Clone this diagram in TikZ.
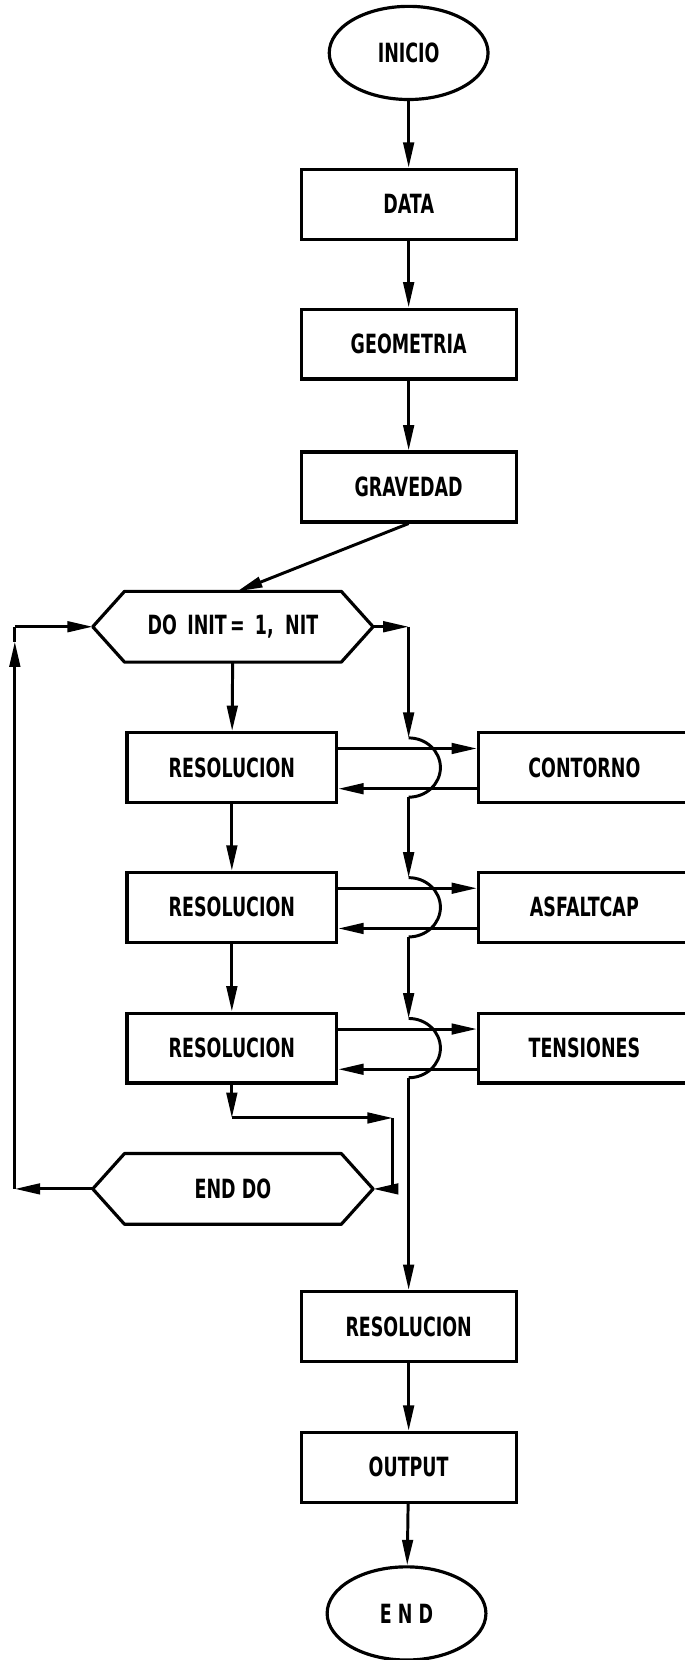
\documentclass[tikz,border=0pt]{standalone}
\usepackage{fontspec}
\setmainfont{DejaVu Sans}[FakeStretch=0.66]
\usetikzlibrary{arrows.meta,shapes.geometric}
\tikzset{
  conn/.style={line width=1.4pt},
  flow/.style={conn, -{Triangle[length=12pt,width=5pt]}},
  proc/.style={draw, line width=1.5pt, minimum width=101.5pt, minimum height=33pt,
    inner sep=0pt, font=\fontsize{12.5}{14}\selectfont\bfseries},
  subproc/.style={proc, minimum width=99pt},
  term/.style={draw, ellipse, line width=1.5pt, minimum width=75pt, minimum height=44pt,
    inner sep=0pt, font=\fontsize{12.5}{14}\selectfont\bfseries},
  dobox/.style={minimum width=132pt, minimum height=33pt, inner sep=0pt,
    font=\fontsize{12.5}{14}\selectfont\bfseries},
  hexline/.style={line width=1.5pt, line join=round},
}

\begin{document}
\begin{tikzpicture}[x=0.5pt,y=-0.5pt]
        \useasboundingbox (0,0) rectangle (647,1568);

        % main column
        \node[term] (ini) at (386,50) {INICIO};
        \node[proc] (data) at (386,193) {DATA};
        \node[proc] (geom) at (386,325) {GEOMETRIA};
        \node[proc] (grav) at (386,460) {GRAVEDAD};

        % loop
        \node[dobox] (do) at (220,592) {DO\hspace{2pt} INIT\hspace{1.5pt}= \hspace{2pt}1,\hspace{2.5pt} NIT};
        \node[subproc] (res1) at (219,725) {RESOLUCION};
        \node[subproc] (res2) at (219,857) {RESOLUCION};
        \node[subproc] (res3) at (219,990) {RESOLUCION};
        \node[dobox] (enddo) at (220,1123) {END DO};

        % hexagon outlines of the two loop nodes
        \foreach \h in {do,enddo}{
          \draw[hexline] (\h.west) -- ([xshift=15pt]\h.north west) -- ([xshift=-15pt]\h.north east)
            -- (\h.east) -- ([xshift=-15pt]\h.south east) -- ([xshift=15pt]\h.south west) -- cycle;
        }

        % side routines
        \node[subproc, minimum width=100pt] (cont) at (552,725) {CONTORNO};
        \node[subproc, minimum width=100pt] (asf) at (552,857) {ASFALTCAP};
        \node[subproc, minimum width=100pt] (tens) at (552,990) {TENSIONES};

        % end
        \node[proc] (resf) at (386,1253) {RESOLUCION};
        \node[proc] (out) at (386,1386) {OUTPUT};
        \node[term] (fin) at (384,1524) {E N D};

        \draw[flow] (ini) -- (data);
        \draw[flow] (data) -- (geom);
        \draw[flow] (geom) -- (grav);
        \draw[flow] (grav.south) -- ([xshift=2pt]do.north);

        \draw[flow] (do) -- (res1);
        \draw[flow] (res1) -- (res2);
        \draw[flow] (res2) -- (res3);

        % calls to the side routines
        \foreach \r/\s in {res1/cont,res2/asf,res3/tens}{
          \draw[flow] ([yshift=9pt]\r.east) -- ([yshift=9pt]\s.west);
          \draw[flow] ([yshift=-10pt]\s.west) -- ([yshift=-10pt]\r.east);
        }

        % bypass line with jumps
        \coordinate (tr) at (386,592);
        \draw[flow] (do.east) -- (tr);
        \draw[flow] (tr) -- (386,697);
        \foreach \y in {725,857,990}{
          \draw[conn] (386,\y-28) arc[start angle=-90, end angle=90, x radius=30, y radius=28];
        }
        \draw[flow] (386,753) -- (386,829);
        \draw[flow] (386,885) -- (386,962);
        \draw[flow] (386,1018) -- (resf.north);

        % back to END DO
        \coordinate (c1) at (219,1056);
        \coordinate (c2) at (371,1056);
        \coordinate (c3) at (371,1123);
        \draw[flow] (res3.south) -- (c1);
        \draw[flow] (c1) -- (c2);
        \draw[conn] (c2) -- (c3);
        \draw[flow] (c3) -- (enddo.east);

        % return to DO
        \coordinate (l1) at (14,1123);
        \coordinate (l2) at (14,592);
        \draw[flow] (enddo.west) -- (l1);
        \draw[flow] (l1) -- (14,606);
        \draw[conn] (14,606) -- (l2);
        \draw[flow] (l2) -- (do.west);

        \draw[flow] (resf) -- (out);
        \draw[flow] (out) -- (fin);
    \end{tikzpicture}
\end{document}
